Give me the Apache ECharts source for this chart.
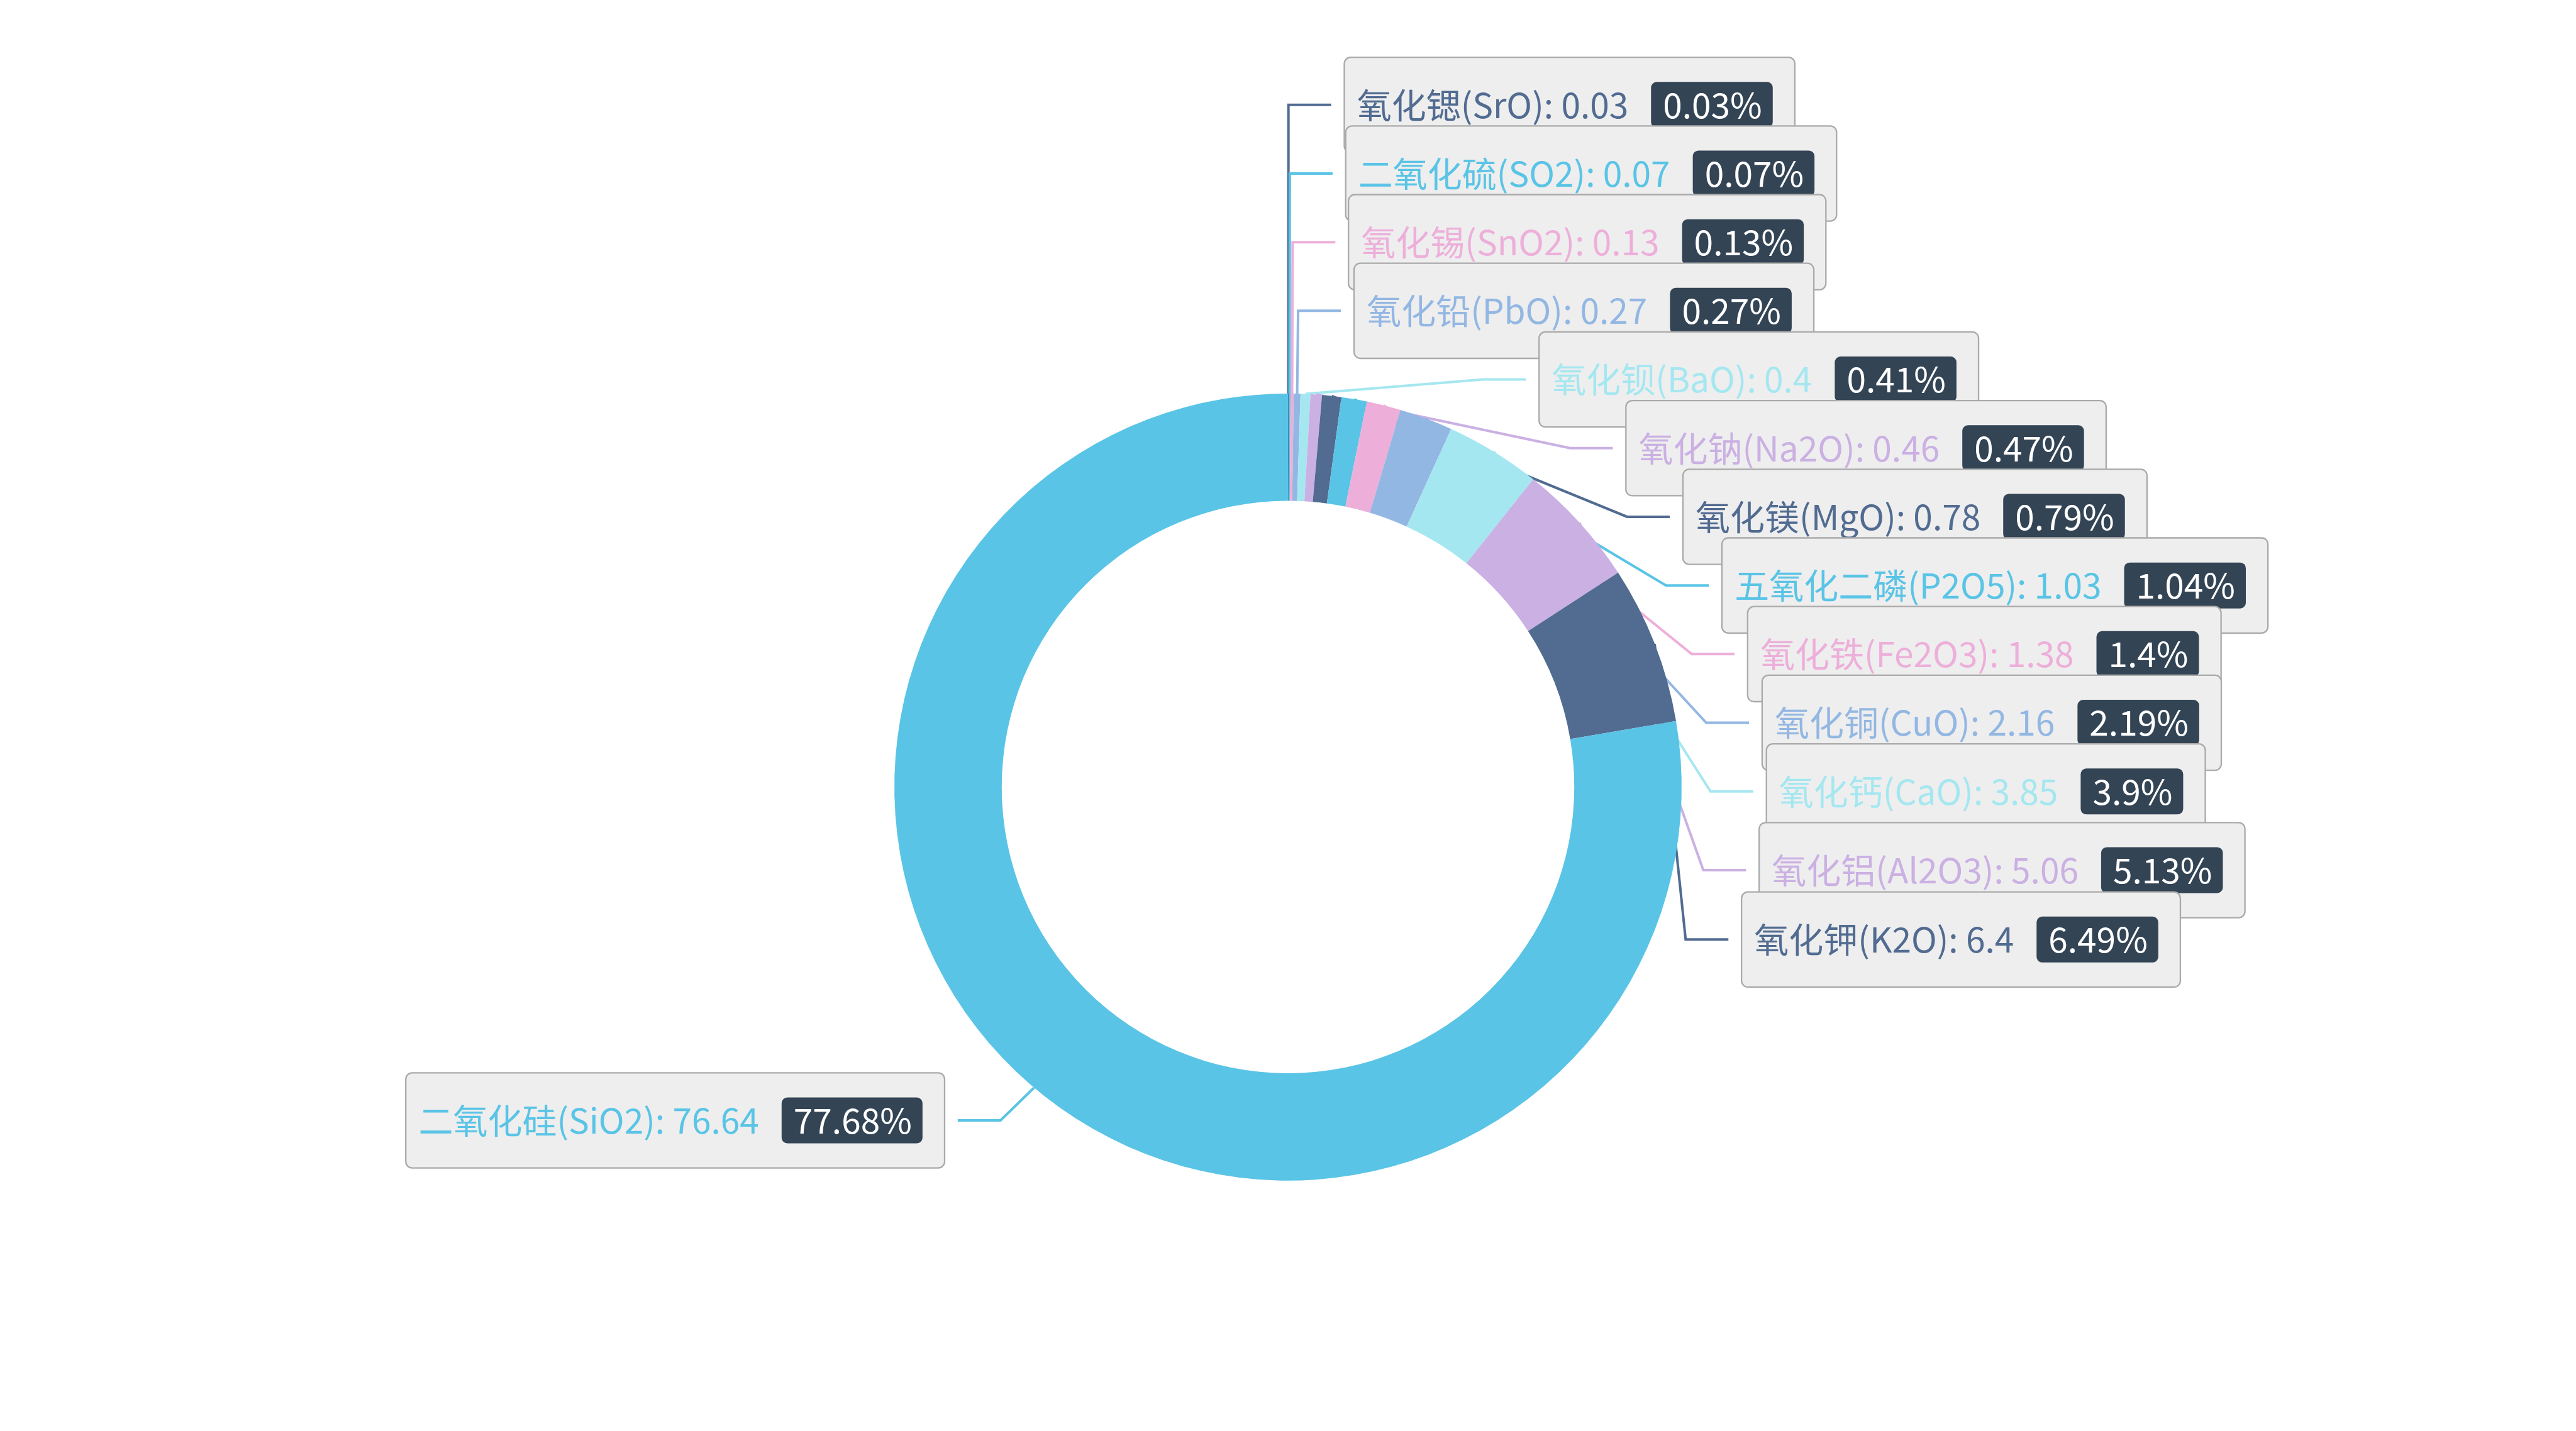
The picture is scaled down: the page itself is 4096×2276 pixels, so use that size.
<!DOCTYPE html>
<html>
<head>
<meta charset="utf-8">
<script src="https://cdn.jsdelivr.net/npm/echarts@6/dist/echarts.min.js"></script>
<style>
html,body{margin:0;padding:0;background:#fff;}
#main{width:4096px;height:2276px;}
</style>
</head>
<body>
<div id="main"></div>
<script>
var names = ['氧化锶(SrO)','二氧化硫(SO2)','氧化锡(SnO2)','氧化铅(PbO)','氧化钡(BaO)','氧化钠(Na2O)','氧化镁(MgO)','五氧化二磷(P2O5)','氧化铁(Fe2O3)','氧化铜(CuO)','氧化钙(CaO)','氧化铝(Al2O3)','氧化钾(K2O)','二氧化硅(SiO2)'];
var values = [0.03,0.07,0.13,0.27,0.4,0.46,0.78,1.03,1.38,2.16,3.85,5.06,6.4,76.64];
var palette = ['#516b91','#59c4e6','#edafda','#93b7e3','#a5e7f0','#cbb0e3'];

var seriesData = names.map(function(n,i){ return {name:n, value:values[i]}; });

var chart = echarts.init(document.getElementById('main'));
var W = chart.getWidth(), H = chart.getHeight();
var CX = W * 0.5, CY = H * 0.55, R = Math.min(W, H) / 2 * 0.55;
var LEN = 68, LEN2 = 68, DIST = 22, LBL_H = 109.2, STEP_X = 22.7;

// Classic (ECharts 4 style) outside-label placement for the pie, derived from the data.
function classicLabelLayout() {
  var sum = values.reduce(function(a, b){ return a + b; }, 0);
  var cur = -Math.PI / 2;
  var items = [];
  values.forEach(function(v, i){
    var ang = v / sum * Math.PI * 2;
    var mid = cur + ang / 2;
    cur += ang;
    var dx = Math.cos(mid), dy = Math.sin(mid);
    var x1 = CX + dx * R, y1 = CY + dy * R;
    var x2 = CX + dx * (R + LEN), y2 = CY + dy * (R + LEN);
    var x3 = x2 + (dx < 0 ? -1 : 1) * LEN2;
    items.push({
      idx: i, x: x3 + (dx < 0 ? -DIST : DIST), y: y2, height: LBL_H,
      len: LEN, len2: LEN2, linePoints: [[x1, y1], [x2, y2], [x3, y2]]
    });
  });
  var leftList = [], rightList = [];
  items.forEach(function(it){ (it.x < CX ? leftList : rightList).push(it); });

  function changeX(list, isDownList, dir) {
    var lastDeltaX = isDownList ? Number.MAX_VALUE : 0;
    for (var i = 0; i < list.length; i++) {
      var deltaY = Math.abs(list[i].y - CY);
      var l1 = list[i].len, l2 = list[i].len2;
      var deltaX = deltaY < R + l1
        ? Math.sqrt((R + l1 + l2) * (R + l1 + l2) - deltaY * deltaY)
        : Math.abs(list[i].x - CX);
      if (isDownList && deltaX >= lastDeltaX) deltaX = lastDeltaX - STEP_X;
      if (!isDownList && deltaX <= lastDeltaX) deltaX = lastDeltaX + STEP_X;
      list[i].x = CX + deltaX * dir;
      lastDeltaX = deltaX;
    }
  }

  function adjustSingleSide(list, dir) {
    list.sort(function(a, b){ return a.y - b.y; });
    function shiftDown(start, end, delta) {
      for (var j = start; j < end; j++) {
        if (list[j].y + delta > H) break;
        list[j].y += delta;
        if (j > start && j + 1 < end && list[j + 1].y > list[j].y + list[j].height) {
          shiftUp(j, delta / 2);
          return;
        }
      }
      shiftUp(end - 1, delta / 2);
    }
    function shiftUp(end, delta) {
      for (var j = end; j >= 0; j--) {
        if (list[j].y - delta < 0) break;
        list[j].y -= delta;
        if (j > 0 && list[j].y > list[j - 1].y + list[j - 1].height) break;
      }
    }
    var lastY = 0, len = list.length, upList = [], downList = [];
    for (var i = 0; i < len; i++) {
      var delta = list[i].y - lastY;
      if (delta < 0) shiftDown(i, len, -delta);
      lastY = list[i].y + list[i].height;
    }
    if (H - lastY < 0) shiftUp(len - 1, lastY - H);
    for (var k = 0; k < len; k++) {
      (list[k].y >= CY ? downList : upList).push(list[k]);
    }
    changeX(upList, false, dir);
    changeX(downList, true, dir);
  }

  adjustSingleSide(rightList, 1);
  adjustSingleSide(leftList, -1);

  var out = [];
  items.forEach(function(it){
    var lp = it.linePoints;
    var dist = lp[1][0] - lp[2][0];
    lp[2][0] = it.x < CX ? it.x + DIST : it.x - DIST;
    lp[1][0] = lp[2][0] + dist;
    lp[1][1] = lp[2][1] = it.y;
    out[it.idx] = it;
  });
  return out;
}
var labelPos = classicLabelLayout();

chart.setOption({
  backgroundColor:'#fff',
  color: palette,
  textStyle:{fontFamily:'"Noto Sans CJK SC", sans-serif'},
  series:[{
    type:'pie',
    radius:['40%','55%'],
    center:['50%','55%'],
    startAngle:90,
    clockwise:true,
    data: seriesData,
    labelLine:{length:LEN,length2:LEN2,lineStyle:{width:4}},
    labelLayout:function(params){
      var p = labelPos[params.dataIndex];
      return {
        x: p.x,
        y: p.y,
        align: p.x < CX ? 'right' : 'left',
        verticalAlign: 'middle',
        labelLinePoints: p.linePoints
      };
    },
    label:{
      show:true,
      position:'outside',
      color:'inherit',
      fontSize:55,
      fontFamily:'"Noto Sans CJK SC", sans-serif',
      formatter:'{b}: {c}{sp|}{per|{d}%}',
      backgroundColor:'#eee',
      borderColor:'#aaa',
      borderWidth:2.3,
      borderRadius:9,
      padding:[38,34,38,19],
      distanceToLabelLine:DIST,
      rich:{
        sp:{width:36},
        per:{
          color:'#fff',
          backgroundColor:'#334455',
          padding:[9,17,9,19],
          borderRadius:9,
          fontSize:55
        }
      }
    }
  }]
});
</script>
</body>
</html>
